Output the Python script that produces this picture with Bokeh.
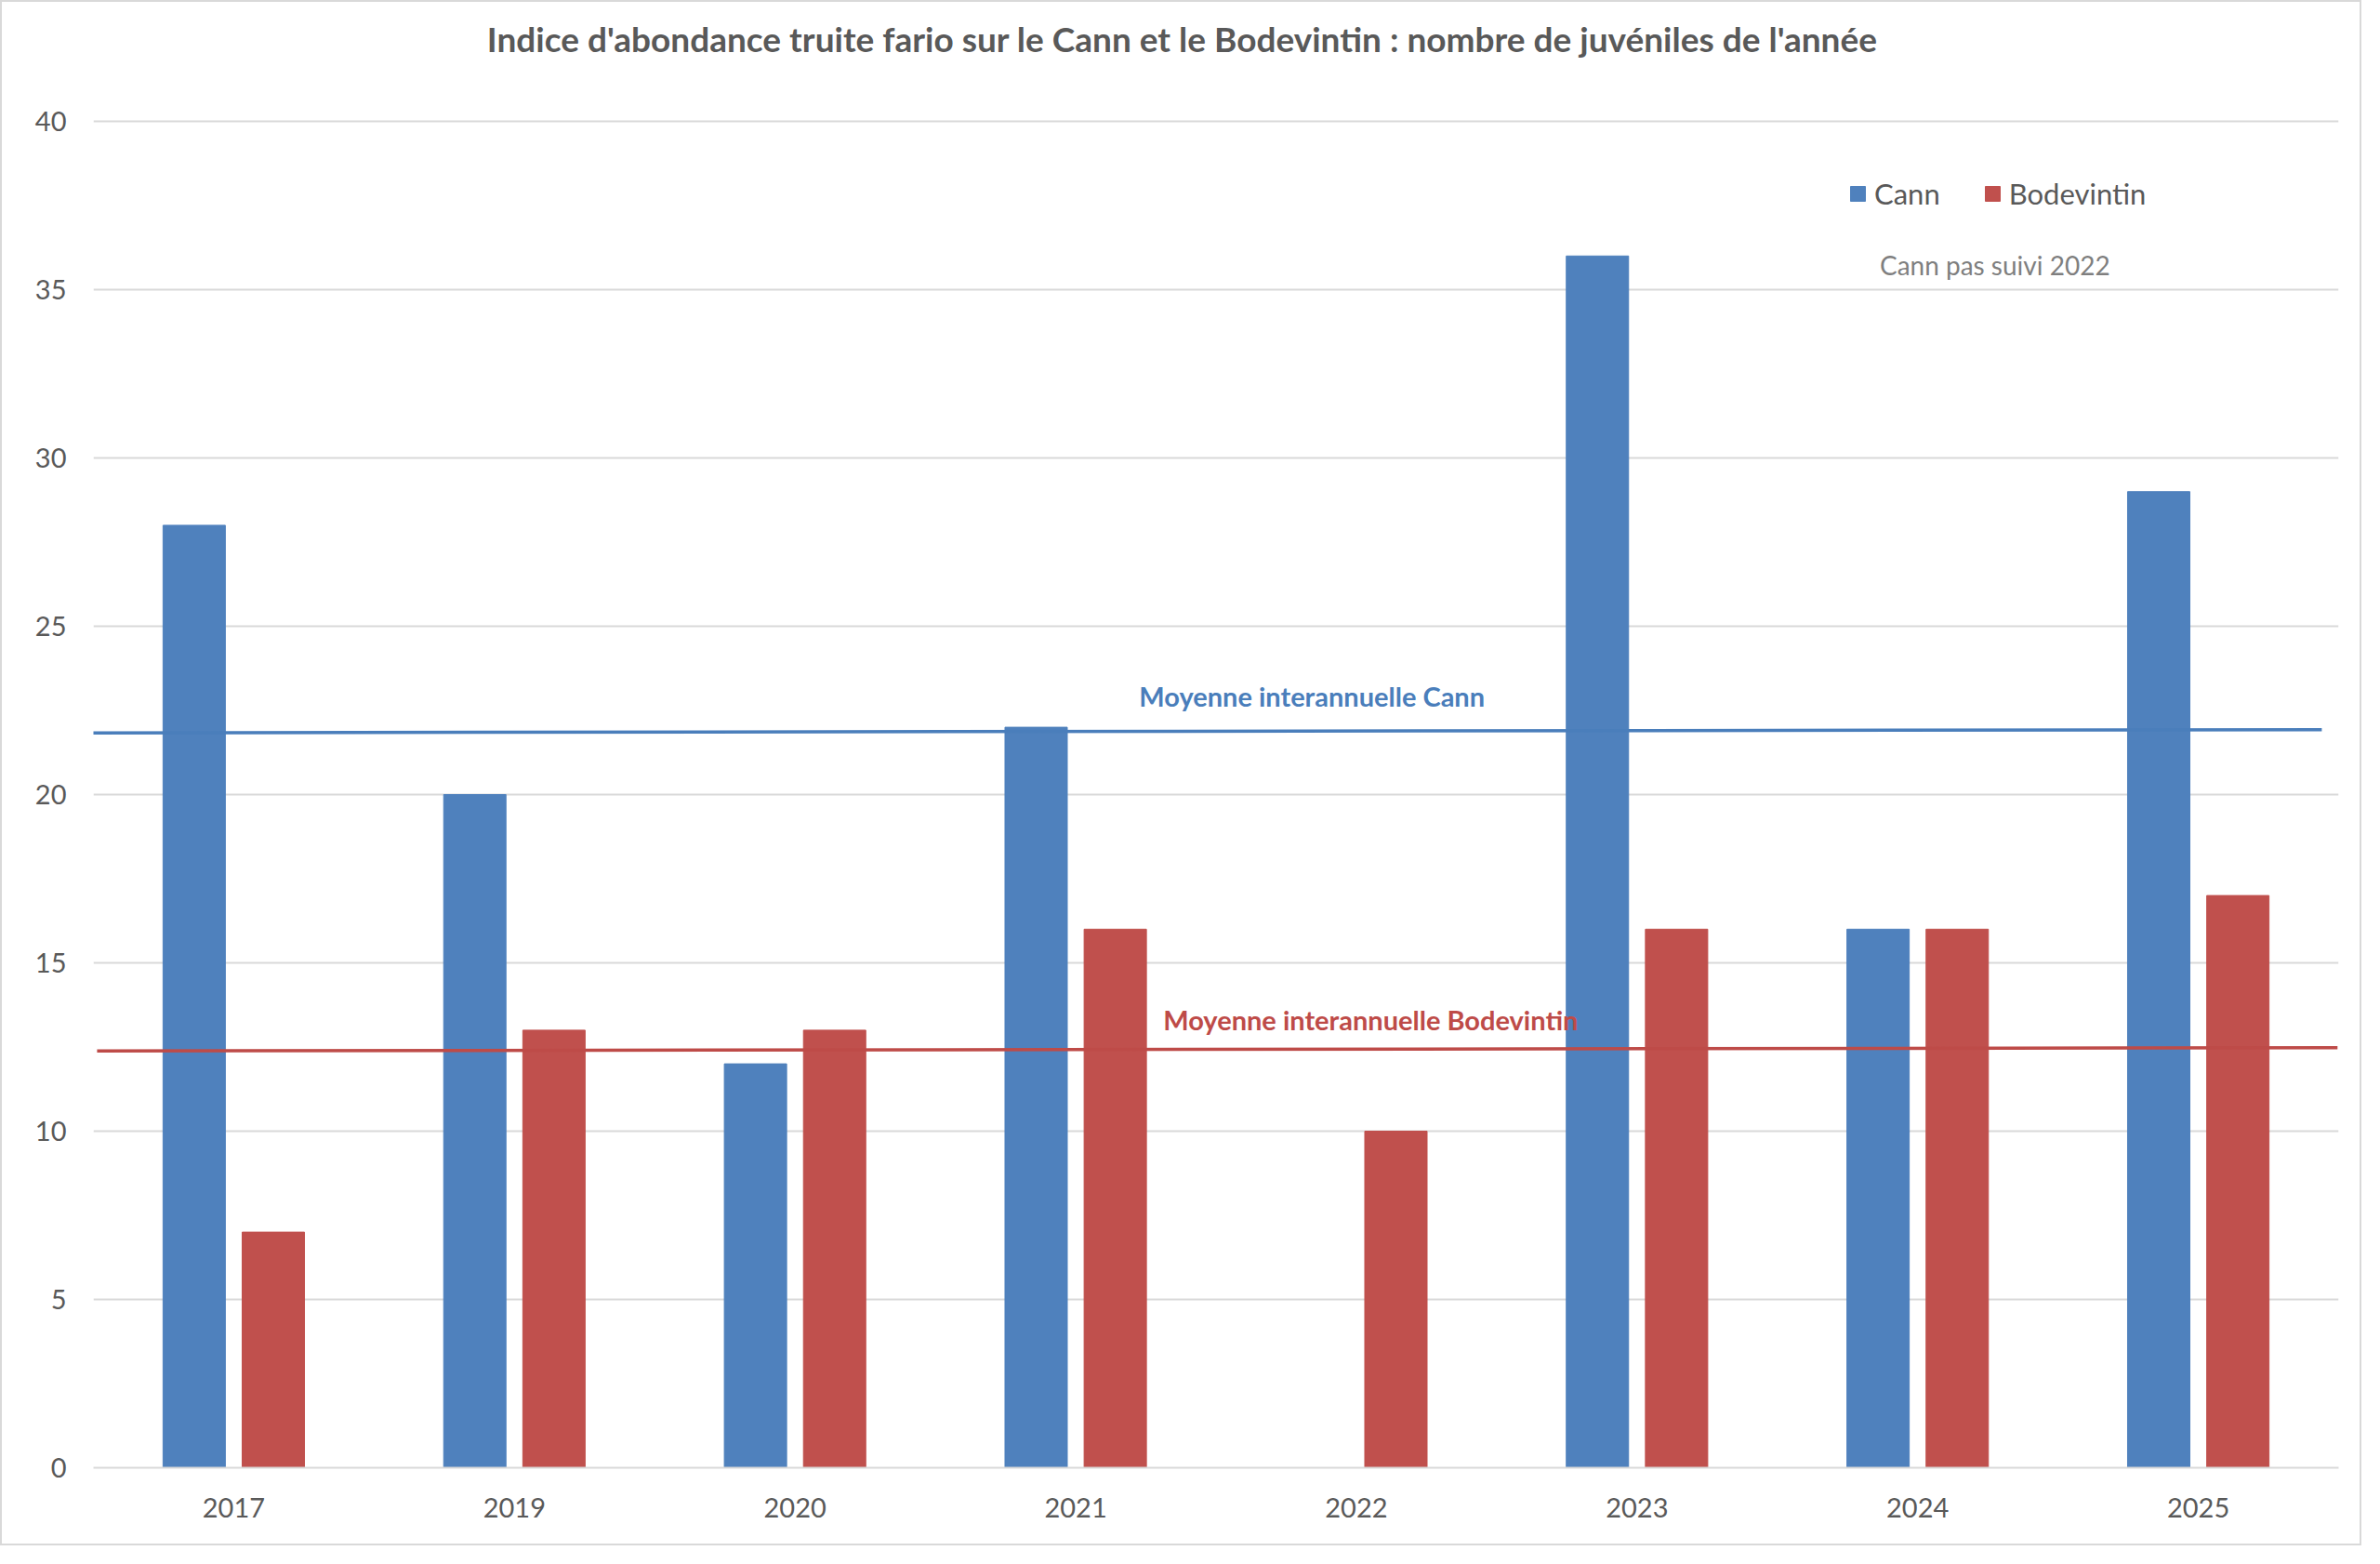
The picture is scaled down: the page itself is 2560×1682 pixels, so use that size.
from bokeh.plotting import figure
from bokeh.models import ColumnDataSource, FixedTicker, Label, Legend, LegendItem, Range1d
from bokeh.embed import file_html
from bokeh.resources import INLINE
from bokeh.transform import dodge

# ---- data ----
years = ["2017", "2019", "2020", "2021", "2022", "2023", "2024", "2025"]
cann = [28, 20, 12, 22, None, 36, 16, 29]          # Cann not monitored in 2022
bodevintin = [7, 13, 13, 16, 10, 16, 16, 17]
y_ticks = [0, 5, 10, 15, 20, 25, 30, 35, 40]
mean_cann = [21.83, 21.93]          # line start / end value
mean_bodevintin = [12.38, 12.48]    # line start / end value

title_text = "Indice d'abondance truite fario sur le Cann et le Bodevintin : nombre de juvéniles de l'année"

BLUE = "#4F81BD"
RED = "#C0504D"
TXT = "#595959"
GRID = "#D9D9D9"
FONT = "Lato"

idx = list(range(len(years)))
src = ColumnDataSource(dict(
    x=idx,
    cann=[float("nan") if v is None else v for v in cann],
    bod=bodevintin,
))

W, H = 2540, 1662
p = figure(width=W, height=H, output_backend="svg", toolbar_location=None,
           x_range=Range1d(-0.5, len(years) - 0.5), y_range=Range1d(0, 43.26),
           min_border_left=98, min_border_right=27, min_border_top=10, min_border_bottom=86,
           tools="")
p.styles = {"border": f"2px solid {GRID}"}
p.outline_line_color = None
p.background_fill_color = "white"
p.border_fill_color = "white"

# bars
r_cann = p.vbar(x=dodge("x", -0.141), top="cann", width=0.222, source=src,
                fill_color=BLUE, line_color=BLUE, line_width=1)
r_bod = p.vbar(x=dodge("x", 0.141), top="bod", width=0.222, source=src,
               fill_color=RED, line_color=RED, line_width=1)

# inter-annual mean lines
n = len(years)
p.line(x=[-0.556, n - 0.56], y=mean_cann, line_color="#4A7EBB", line_width=3.5)
p.line(x=[-0.487, n - 0.504], y=mean_bodevintin, line_color="#BE4B48", line_width=3.5)

# axes
p.xaxis.ticker = FixedTicker(ticks=idx)
p.xaxis.major_label_overrides = {i: y for i, y in enumerate(years)}
p.xaxis.major_tick_line_color = None
p.xaxis.minor_tick_line_color = None
p.xaxis.axis_line_color = GRID
p.xaxis.axis_line_width = 2
p.xaxis.major_label_text_font = FONT
p.xaxis.major_label_text_font_size = "29px"
p.xaxis.major_label_text_color = TXT
p.xaxis.major_label_standoff = 26

p.yaxis.ticker = FixedTicker(ticks=y_ticks)
p.yaxis.axis_line_color = None
p.yaxis.major_tick_line_color = None
p.yaxis.minor_tick_line_color = None
p.yaxis.major_label_text_font = FONT
p.yaxis.major_label_text_font_size = "29px"
p.yaxis.major_label_text_color = TXT
p.yaxis.major_label_standoff = 23

p.xgrid.grid_line_color = None
p.ygrid.grid_line_color = GRID
p.ygrid.grid_line_width = 2
p.ygrid.ticker = FixedTicker(ticks=y_ticks)

# title
p.add_layout(Label(x=3.38, y=42.45, text=title_text, text_font=FONT, text_font_style="bold",
                   text_font_size="37px", text_color=TXT, text_align="center",
                   text_baseline="middle"))

# annotations
p.add_layout(Label(x=3.226, y=22.93, text="Moyenne interannuelle Cann", text_font=FONT,
                   text_font_style="bold", text_font_size="29px", text_color="#4A7EBB",
                   text_baseline="middle"))
p.add_layout(Label(x=3.312, y=13.32, text="Moyenne interannuelle Bodevintin", text_font=FONT,
                   text_font_style="bold", text_font_size="29px", text_color="#BE4B48",
                   text_baseline="middle"))
p.add_layout(Label(x=5.865, y=35.74, text="Cann pas suivi 2022", text_font=FONT,
                   text_font_size="28px", text_color="#7F7F7F", text_baseline="middle"))

# legend
legend = Legend(items=[LegendItem(label="Cann", renderers=[r_cann]),
                       LegendItem(label="Bodevintin", renderers=[r_bod])],
                orientation="horizontal", location=(1888, 1351),
                glyph_width=20, glyph_height=20, label_standoff=8, spacing=46,
                padding=0, margin=0, border_line_color=None, background_fill_alpha=0,
                label_text_font=FONT, label_text_font_size="31px", label_text_color=TXT)
p.add_layout(legend)

open("out.html", "w").write(file_html(p, INLINE))
